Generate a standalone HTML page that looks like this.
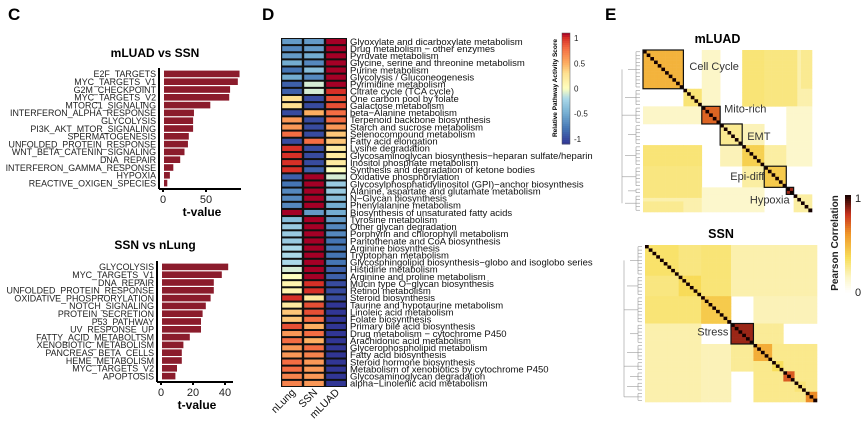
<!DOCTYPE html>
<html><head><meta charset="utf-8"><style>
body{margin:0;background:#fff;}
svg{display:block;font-family:"Liberation Sans",Arial,sans-serif;}
</style></head><body>
<svg id="fig" width="865" height="425" viewBox="0 0 865 425">
<text x="8" y="20" font-size="17" font-weight="bold">C</text>
<text x="262" y="20" font-size="17" font-weight="bold">D</text>
<text x="605" y="20" font-size="17" font-weight="bold">E</text>
<g id="pc"></g>
<g id="pd"></g>
<g id="pe"></g>
</svg>
<script>
const NS="http://www.w3.org/2000/svg";
function mk(p,t,a){const e=document.createElementNS(NS,t);for(const k in a)e.setAttribute(k,a[k]);p.appendChild(e);return e;}

// ---------- Panel C data ----------
const c1Cats=["E2F_TARGETS","MYC_TARGETS_V1","G2M_CHECKPOINT","MYC_TARGETS_V2","MTORC1_SIGNALING","INTERFERON_ALPHA_RESPONSE","GLYCOLYSIS","PI3K_AKT_MTOR_SIGNALING","SPERMATOGENESIS","UNFOLDED_PROTEIN_RESPONSE","WNT_BETA_CATENIN_SIGNALING","DNA_REPAIR","INTERFERON_GAMMA_RESPONSE","HYPOXIA","REACTIVE_OXIGEN_SPECIES"];
const c1Vals=[89,87,78,77,55,36,35,35,30,29,25,20,12,8,5];
const c1Ticks=[0,50];
const c2Cats=["GLYCOLYSIS","MYC_TARGETS_V1","DNA_REPAIR","UNFOLDED_PROTEIN_RESPONSE","OXIDATIVE_PHOSPRORYLATION","NOTCH_SIGNALING","PROTEIN_SECRETION","P53_PATHWAY","UV_RESPONSE_UP","FATTY_ACID_METABOLTSM","XENOBIOTIC_METABOLISM","PANCREAS_BETA_CELLS","HEME_METABOLISM","MYC_TARGETS_V2","APOPTOSIS"];
const c2Vals=[42,38,33,33,31,28,26,25,25,18,14,13,13,10,9];
const c2Ticks=[0,20,40];

function barChart(g,name,title,cats,vals,ticks,o){
  const gg=mk(g,"g",{});
  
  
  const x=v=>o.x0+v*o.k;
  const y=i=>o.y0+i*o.step;
  const t=mk(gg,"text",{x:155,y:o.ty,"font-size":12,"font-weight":"bold","text-anchor":"middle"});t.textContent=title;
  
  cats.forEach((c,i)=>{
    const r=mk(gg,"rect",{x:x(0)+1,y:y(i)+0.6,width:Math.max(0,x(vals[i])-x(0)-1),height:o.step-1.2,fill:"#8b1c2c"});
    
    
    const l=mk(gg,"text",{x:o.x0-7,y:y(i)+o.step/2+3.3,"font-size":8.9,"text-anchor":"end",fill:"#222"});l.textContent=c;
    
    mk(gg,"line",{x1:o.x0-5,x2:o.x0-3,y1:y(i)+o.step/2,y2:y(i)+o.step/2,stroke:"#000","stroke-width":1.5});
  });
  const yb=y(cats.length)+2;
  mk(gg,"line",{x1:o.x0-4,x2:o.x0-4,y1:o.y0-2,y2:yb,stroke:"#000","stroke-width":2});
  mk(gg,"line",{x1:o.x0-4,x2:o.xe,y1:yb,y2:yb,stroke:"#000","stroke-width":2});
  ticks.forEach(v=>{
    mk(gg,"line",{x1:x(v),x2:x(v),y1:yb,y2:yb+3,stroke:"#000","stroke-width":2});
    const tt=mk(gg,"text",{x:x(v),y:yb+14,"font-size":11,"text-anchor":"middle",fill:"#222"});tt.textContent=v;
    
  });
  const xt=mk(gg,"text",{x:(o.x0+o.xe)/2,y:yb+27,"font-size":12,"font-weight":"bold","text-anchor":"middle"});xt.textContent="t-value";
  
}
const pc=document.getElementById("pc");
barChart(pc,"chart-mluad-vs-ssn","mLUAD vs SSN",c1Cats,c1Vals,c1Ticks,{x0:163,k:0.86,y0:70,step:7.8,xe:241,ty:57});
barChart(pc,"chart-ssn-vs-nlung","SSN vs nLung",c2Cats,c2Vals,c2Ticks,{x0:161,k:1.6,y0:263,step:7.8,xe:233,ty:249});

// ---------- Panel D data ----------
const dRows=["Glyoxylate and dicarboxylate metabolism","Drug metabolism \u2212 other enzymes","Pyruvate metabolism","Glycine, serine and threonine metabolism","Purine metabolism","Glycolysis / Gluconeogenesis","Pyrimidine metabolism","Citrate cycle (TCA cycle)","One carbon pool by folate","Galactose metabolism","beta\u2212Alanine metabolism","Terpenoid backbone biosynthesis","Starch and sucrose metabolism","Selenocompound metabolism","Fatty acid elongation","Lysine degradation","Glycosaminoglycan biosynthesis\u2212heparan sulfate/heparin","Inositol phosphate metabolism","Synthesis and degradation of ketone bodies","Oxidative phosphorylation","Glycosylphosphatidylinositol (GPI)\u2212anchor biosynthesis","Alanine, aspartate and glutamate metabolism","N\u2212Glycan biosynthesis","Phenylalanine metabolism","Biosynthesis of unsaturated fatty acids","Tyrosine metabolism","Other glycan degradation","Porphyrin and chlorophyll metabolism","Pantothenate and CoA biosynthesis","Arginine biosynthesis","Tryptophan metabolism","Glycosphingolipid biosynthesis\u2212globo and isoglobo series","Histidine metabolism","Arginine and proline metabolism","Mucin type O\u2212glycan biosynthesis","Retinol metabolism","Steroid biosynthesis","Taurine and hypotaurine metabolism","Linoleic acid metabolism","Folate biosynthesis","Primary bile acid biosynthesis","Drug metabolism \u2212 cytochrome P450","Arachidonic acid metabolism","Glycerophospholipid metabolism","Fatty acid biosynthesis","Steroid hormone biosynthesis","Metabolism of xenobiotics by cytochrome P450","Glycosaminoglycan degradation","alpha\u2212Linolenic acid metabolism"];
const dCols=["nLung","SSN","mLUAD"];
const nLung=[-0.6,-0.7,-0.6,-0.5,-0.8,-0.5,-0.9,-0.9,0.3,0.3,-1.0,0.6,0.6,0.8,-1.0,1.0,1.0,1.0,1.0,-0.9,-0.8,-0.7,-0.7,-0.7,1.1,-0.4,-0.3,-0.3,-0.3,-0.2,-0.2,-0.2,-0.1,0.0,0.1,0.1,1.0,0.2,0.4,0.4,0.9,0.6,0.8,0.6,0.6,0.8,0.8,0.7,0.7];
const ssn=[-0.6,-0.6,-0.5,-0.7,-0.4,-0.7,-0.1,-0.1,-1.0,-1.0,0.5,-1.0,-1.0,-1.0,0.8,-1.0,-1.0,-1.0,-0.9,1.1,1.1,1.1,1.1,1.1,-0.6,1.1,1.1,1.1,1.1,1.1,1.1,1.1,1.1,1.1,1.0,1.0,0.2,0.9,0.9,0.8,0.5,0.8,0.5,0.8,0.7,0.6,0.6,0.6,0.6];
const mluad=[1.1,1.1,1.1,1.1,1.1,1.1,1.1,1.0,0.9,0.9,0.8,0.8,0.6,0.4,0.4,0.2,0.2,0.2,0.0,-0.1,-0.3,-0.3,-0.4,-0.5,-0.5,-0.6,-0.7,-0.7,-0.8,-0.8,-0.8,-0.8,-0.9,-0.9,-1.0,-1.0,-1.0,-1.1,-1.1,-1.1,-1.1,-1.1,-1.1,-1.1,-1.1,-1.1,-1.1,-1.1,-1.1];
const dLegendTicks=[1,0.5,0,-0.5,-1];

const rdyl=[[-1.1,[49,54,149]],[-0.8,[69,117,180]],[-0.5,[116,173,209]],[-0.2,[171,217,233]],[0,[255,255,191]],[0.3,[254,224,144]],[0.5,[253,174,97]],[0.8,[244,109,67]],[1.0,[215,48,39]],[1.1,[165,0,38]]];
function interp(stops,v){
  if(v<=stops[0][0])return stops[0][1];
  for(let i=1;i<stops.length;i++){if(v<=stops[i][0]){const a=stops[i-1],b=stops[i],t=(v-a[0])/(b[0]-a[0]);return a[1].map((c,j)=>Math.round(c+(b[1][j]-c)*t));}}
  return stops[stops.length-1][1];
}
const rgb=c=>`rgb(${c[0]},${c[1]},${c[2]})`;
const pd=document.getElementById("pd");
(function(){
  const x0=281,cw=22,y0=38,rh=(387-38)/dRows.length;
  const series=[nLung,ssn,mluad];
  mk(pd,"rect",{x:x0,y:y0,width:cw*3,height:rh*dRows.length,fill:"#111"});
  dRows.forEach((r,i)=>{
    series.forEach((s,j)=>{
      const c=mk(pd,"rect",{x:x0+j*cw+1.2,y:y0+i*rh+1,width:cw-2.4,height:rh-2,fill:rgb(interp(rdyl,s[i]))});
      
      
    });
    const t=mk(pd,"text",{x:x0+cw*3+3,y:y0+i*rh+rh-0.3,"font-size":9.5,fill:"#111"});t.textContent=r;
    
  });
  dCols.forEach((c,j)=>{
    const cx=x0+j*cw+cw/2+4, cy=393;
    const t=mk(pd,"text",{x:cx,y:cy,"font-size":10.5,"text-anchor":"end",transform:`rotate(-45 ${cx} ${cy})`,fill:"#111"});t.textContent=c;
    
  });
  const lx=562,ly0=33,lh=111,vmax=1.1,vmin=-1.1;
  const ly=v=>ly0+(vmax-v)/(vmax-vmin)*lh;
  for(let k=0;k<56;k++){const v=vmax-(k+0.5)/56*(vmax-vmin);mk(pd,"rect",{x:lx,y:ly0+k*lh/56,width:8,height:lh/56+0.5,fill:rgb(interp(rdyl,v))});}
  mk(pd,"rect",{x:lx,y:ly0,width:8,height:lh,fill:"none",stroke:"#555","stroke-width":0.5});
  dLegendTicks.forEach(v=>{
    const t=mk(pd,"text",{x:lx+12,y:ly(v)+3,"font-size":8,fill:"#222"});t.textContent=v;
    
  });
  const tt=mk(pd,"text",{x:557,y:88,"font-size":6.5,"font-weight":"bold","text-anchor":"middle",transform:"rotate(-90 557 88)"});tt.textContent="Relative Pathway Activity Score";
  
})();

// ---------- Panel E data ----------
const mBlocks=[[0,11,0.5],[11,16,0.3],[16,21,0.7],[21,27,0.25],[27,33,0.4],[33,39,0.42],[39,41,0.85],[41,46,0.22]];
const mOff=[[0,16,32,42,0.28],[0,16,16,21,0.15],[27,33,0,16,0.3],[33,46,0,16,0.2],[27,33,33,39,0.22],[0,11,43,46,0.25],[21,27,27,33,0.18],[39,46,16,33,0.14]];
const sBlocks=[[0,9,0.32],[9,15,0.36],[15,23,0.42],[23,29,0.85],[29,34,0.52],[34,37,0.35],[37,40,0.72],[40,43,0.3],[43,46,0.62]];
const sOff=[[0,15,0,46,0.2],[0,23,15,23,0.3],[15,23,29,46,0.18],[29,46,34,46,0.26],[23,29,29,37,0.24],[0,9,9,15,0.28],[29,46,0,15,0.2]];
const corrStops=[[0,[255,255,255]],[0.15,[252,246,200]],[0.35,[248,222,90]],[0.6,[240,150,40]],[0.8,[200,50,30]],[1,[20,0,0]]];
const N=46;
function corrMatrix(blocks,off){
  const m=[];for(let i=0;i<N;i++){m.push(new Array(N).fill(0));}
  off.forEach(([r0,r1,c0,c1,v])=>{for(let i=r0;i<r1;i++)for(let j=c0;j<c1;j++){m[i][j]=Math.max(m[i][j],v);m[j][i]=Math.max(m[j][i],v);}});
  blocks.forEach(([a,b,v])=>{for(let i=a;i<b;i++)for(let j=a;j<b;j++)m[i][j]=v;});
  for(let i=0;i<N;i++)m[i][i]=1;
  return m;
}
const pe=document.getElementById("pe");
function corrPlot(name,title,blocks,off,boxes,o){
  const g=mk(pe,"g",{});
  
  
  const m=corrMatrix(blocks,off);
  const cw=o.w/N,ch=o.h/N;
  for(let i=0;i<N;i++)for(let j=0;j<N;j++){
    if(m[i][j]<=0)continue;
    const r=mk(g,"rect",{x:o.x+j*cw,y:o.y+i*ch,width:cw+0.3,height:ch+0.3,fill:rgb(interp(corrStops,m[i][j]))});
    
    
  }
  const t=mk(g,"text",{x:o.x+o.w/2-10,y:o.y-7,"font-size":12.5,"font-weight":"bold","text-anchor":"middle"});t.textContent=title;
  
  boxes.forEach(([a,b,lab,dx,dy])=>{
    const bx=mk(g,"rect",{x:o.x+a*cw,y:o.y+a*ch,width:(b-a)*cw,height:(b-a)*ch,fill:"none",stroke:"#111","stroke-width":1.2});
    
    const l=mk(g,"text",{x:o.x+b*cw+dx,y:o.y+a*ch+dy,"font-size":11,fill:"#333","text-anchor":dx<0?"end":"start"});l.textContent=lab;
    
  });
  const dx0=o.x-3;
  blocks.forEach(([a,b],k)=>{
    const ym=o.y+(a+b)/2*ch;
    for(let i=a;i<b;i++){mk(g,"line",{x1:dx0-4,x2:dx0,y1:o.y+(i+0.5)*ch,y2:o.y+(i+0.5)*ch,stroke:"#999","stroke-width":0.6});}
    mk(g,"line",{x1:dx0-4,x2:dx0-4,y1:o.y+(a+0.5)*ch,y2:o.y+(b-0.5)*ch,stroke:"#999","stroke-width":0.6});
    mk(g,"line",{x1:dx0-12-(k%3)*3,x2:dx0-4,y1:ym,y2:ym,stroke:"#999","stroke-width":0.6});
  });
  mk(g,"line",{x1:dx0-18,x2:dx0-18,y1:o.y+blocks[0][1]/2*ch,y2:o.y+(blocks[blocks.length-1][0]+N)/2*ch,stroke:"#999","stroke-width":0.6});
}
corrPlot("mluad-correlation","mLUAD",mBlocks,mOff,[[0,11,"Cell Cycle",6,20],[16,21,"Mito-rich",4,6],[21,27,"EMT",5,16],[33,39,"Epi-diff",-22,14],[39,41,"Hypoxia",-4,16]],{x:643,y:50,w:169,h:162});
corrPlot("ssn-correlation","SSN",sBlocks,sOff,[[23,29,"Stress",-25,12]],{x:645,y:245,w:172,h:157});
(function(){
  const lx=845,ly0=195,lh=97;
  for(let k=0;k<50;k++){const v=1-(k+0.5)/50;mk(pe,"rect",{x:lx,y:ly0+k*lh/50,width:6,height:lh/50+0.5,fill:rgb(interp(corrStops,v))});}
  const a=mk(pe,"text",{x:855,y:202,"font-size":11,fill:"#222"});a.textContent="1";
  
  const b=mk(pe,"text",{x:855,y:296,"font-size":11,fill:"#222"});b.textContent="0";
  
  const t=mk(pe,"text",{x:838,y:243,"font-size":10,"font-weight":"bold","text-anchor":"middle",transform:"rotate(-90 838 243)",fill:"#222"});t.textContent="Pearson Correlation";
  
})();
</script>
</body></html>
